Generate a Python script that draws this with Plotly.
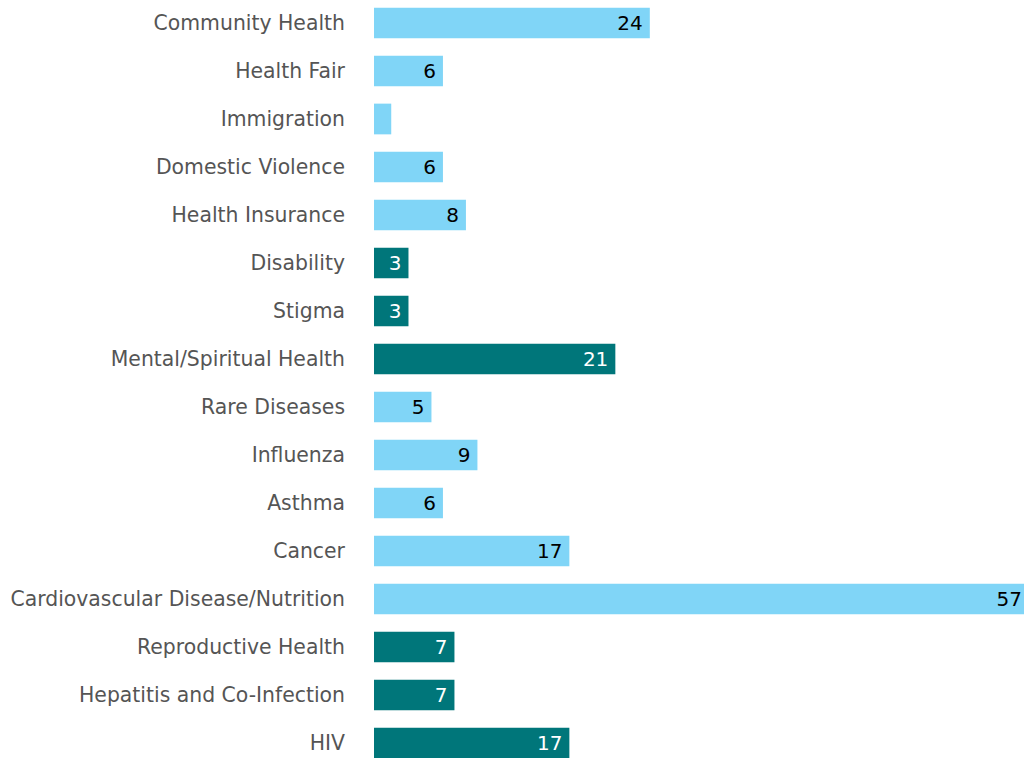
import plotly.graph_objects as go

categories = ["HIV", "Hepatitis and Co-Infection", "Reproductive Health",
              "Cardiovascular Disease/Nutrition", "Cancer", "Asthma", "Influenza",
              "Rare Diseases", "Mental/Spiritual Health", "Stigma", "Disability",
              "Health Insurance", "Domestic Violence", "Immigration", "Health Fair",
              "Community Health"]
values = [17, 7, 7, 57, 17, 6, 9, 5, 21, 3, 3, 8, 6, 1.5, 6, 24]
labels = ["17", "7", "7", "57", "17", "6", "9", "5", "21", "3", "3", "8", "6", "", "6", "24"]
group = ["dark", "dark", "dark", "light", "light", "light", "light", "light", "dark",
         "dark", "dark", "light", "light", "light", "light", "light"]

colors = {"dark": "#00767A", "light": "#80D5F7"}
text_colors = {"dark": "#FFFFFF", "light": "#000000"}

fig = go.Figure(go.Bar(
    y=categories, x=values, orientation="h",
    marker=dict(color=[colors[g] for g in group], line=dict(width=0)),
    text=[(l + "\u2009") if l else "" for l in labels],
    textposition="inside", insidetextanchor="end",
    textfont=dict(family="DejaVu Sans, Verdana, sans-serif", size=20,
                  color=[text_colors[g] for g in group]),
    cliponaxis=True, width=0.64,
))

fig.update_layout(
    width=1024, height=758,
    margin=dict(l=374, r=0, t=0, b=0),
    plot_bgcolor="white", paper_bgcolor="white",
    showlegend=False,
    xaxis=dict(range=[0, 56.56], visible=False, showgrid=False, zeroline=False),
    yaxis=dict(type="category", categoryorder="array", categoryarray=categories,
               range=[-0.3125, 15.479], showgrid=False, zeroline=False,
               showline=False, ticks="", ticklabelstandoff=28,
               tickfont=dict(family="DejaVu Sans, Verdana, sans-serif", size=20.4, color="#555555")),
    font=dict(family="DejaVu Sans, Verdana, sans-serif"),
)

fig.write_html("out.html")
